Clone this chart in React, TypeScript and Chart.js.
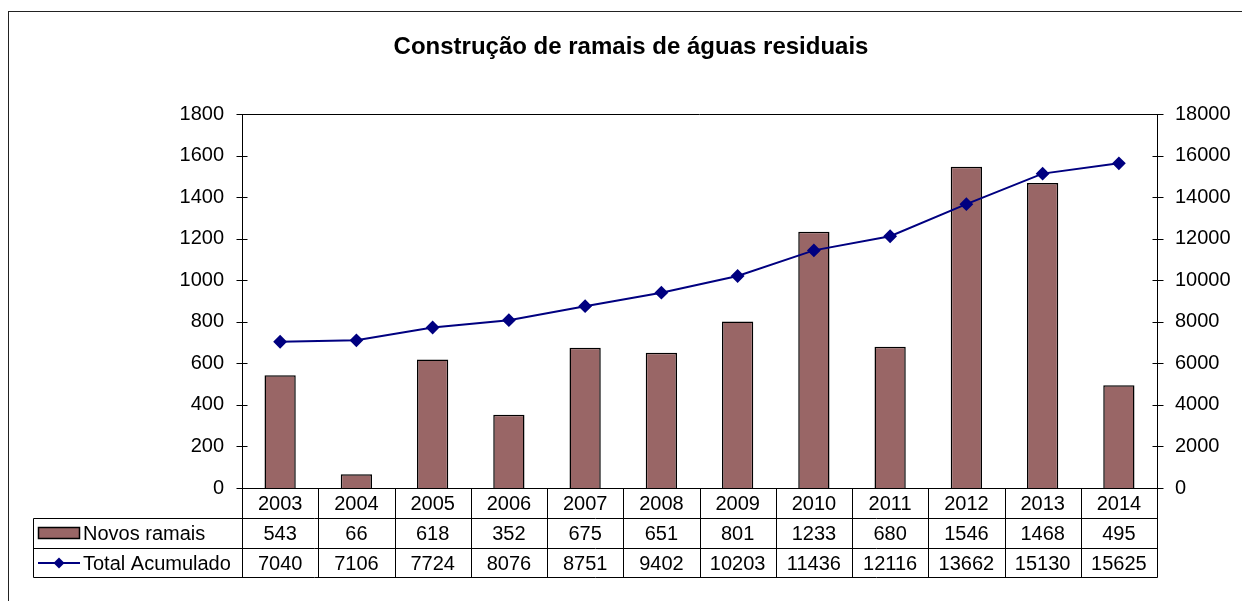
import { useEffect, useRef } from "react";
import { Chart, registerables } from "chart.js";

Chart.register(...registerables);

const years = ["2003", "2004", "2005", "2006", "2007", "2008", "2009", "2010", "2011", "2012", "2013", "2014"];
const novosRamais = [543, 66, 618, 352, 675, 651, 801, 1233, 680, 1546, 1468, 495];
const totalAcumulado = [7040, 7106, 7724, 8076, 8751, 9402, 10203, 11436, 12116, 13662, 15130, 15625];
const leftAxis = { min: 0, max: 1800, step: 200 };
const rightAxis = { min: 0, max: 18000, step: 2000 };
const titleText = "Construção de ramais de águas residuais";
const seriesNames = ["Novos ramais", "Total Acumulado"];

const FONT = "'Liberation Sans', Arial, sans-serif";
const BAR_COLOR = "#996666";
const LINE_COLOR = "#000080";

const tablePlugin = {
  id: "dataTable",
  afterDraw(chart: any) {
    const ctx = chart.ctx as CanvasRenderingContext2D;
    const area = chart.chartArea;
    const x = chart.scales.x;
    const y = chart.scales.y;
    const y1 = chart.scales.y1;
    ctx.save();
    // outer frame
    ctx.strokeStyle = "#222";
    ctx.lineWidth = 1;
    ctx.strokeRect(8.5, 11.5, 1400, 800);

    ctx.strokeStyle = "#000";
    // plot top border
    ctx.beginPath();
    ctx.moveTo(area.left, Math.round(area.top) + 0.5);
    ctx.lineTo(area.right, Math.round(area.top) + 0.5);
    ctx.stroke();

    // tick marks
    const lx = Math.round(area.left) + 0.5;
    const rx = Math.round(area.right) + 0.5;
    for (let v = leftAxis.min; v <= leftAxis.max; v += leftAxis.step) {
      const py = Math.round(y.getPixelForValue(v)) + 0.5;
      ctx.beginPath();
      ctx.moveTo(lx - 6, py);
      ctx.lineTo(lx + 5, py);
      ctx.stroke();
    }
    for (let v = rightAxis.min; v <= rightAxis.max; v += rightAxis.step) {
      const py = Math.round(y1.getPixelForValue(v)) + 0.5;
      ctx.beginPath();
      ctx.moveTo(rx - 5, py);
      ctx.lineTo(rx + 6, py);
      ctx.stroke();
    }

    // table grid
    const tLeft = 33.5;
    const r0 = Math.round(area.bottom) + 0.5;
    const r1 = 518.5;
    const r2 = 548.5;
    const r3 = 577.5;
    ctx.beginPath();
    for (let i = 0; i <= years.length; i++) {
      const bx = Math.round(x.getPixelForValue(i - 0.5)) + 0.5;
      ctx.moveTo(bx, r0);
      ctx.lineTo(bx, r3);
    }
    ctx.moveTo(tLeft, r1);
    ctx.lineTo(tLeft, r3);
    [r1, r2, r3].forEach((ry) => {
      ctx.moveTo(tLeft, ry);
      ctx.lineTo(rx, ry);
    });
    ctx.stroke();

    // legend keys
    ctx.fillStyle = BAR_COLOR;
    ctx.fillRect(38.5, 527.5, 41, 11);
    ctx.lineWidth = 1.5;
    ctx.strokeRect(38.5, 527.5, 41, 11);
    const ly = (r2 + r3) / 2;
    ctx.strokeStyle = LINE_COLOR;
    ctx.lineWidth = 2;
    ctx.beginPath();
    ctx.moveTo(38, ly);
    ctx.lineTo(80, ly);
    ctx.stroke();
    ctx.fillStyle = LINE_COLOR;
    ctx.beginPath();
    ctx.moveTo(59, ly - 5.5);
    ctx.lineTo(64.5, ly);
    ctx.lineTo(59, ly + 5.5);
    ctx.lineTo(53.5, ly);
    ctx.closePath();
    ctx.fill();

    // text
    ctx.fillStyle = "#000";
    ctx.font = `20px ${FONT}`;
    ctx.textBaseline = "middle";
    ctx.textAlign = "left";
    ctx.fillText(seriesNames[0], 83, (r1 + r2) / 2 + 1);
    ctx.fillText(seriesNames[1], 83, ly + 1);
    ctx.textAlign = "center";
    for (let i = 0; i < years.length; i++) {
      const cx = x.getPixelForValue(i);
      ctx.fillText(String(novosRamais[i]), cx, (r1 + r2) / 2 + 1);
      ctx.fillText(String(totalAcumulado[i]), cx, ly + 1);
    }
    ctx.restore();
  },
};

export default function App() {
  const ref = useRef<HTMLCanvasElement>(null);
  useEffect(() => {
    if (!ref.current) return;
    const chart = new Chart(ref.current, {
      type: "bar",
      data: {
        labels: years,
        datasets: [
          {
            type: "line",
            label: seriesNames[1],
            data: totalAcumulado,
            yAxisID: "y1",
            borderColor: LINE_COLOR,
            backgroundColor: LINE_COLOR,
            borderWidth: 2,
            pointStyle: "rectRot",
            pointRadius: 5.5,
            pointBackgroundColor: LINE_COLOR,
            pointBorderColor: LINE_COLOR,
            tension: 0,
            order: 0,
          } as any,
          {
            type: "bar",
            label: seriesNames[0],
            data: novosRamais,
            yAxisID: "y",
            backgroundColor: BAR_COLOR,
            borderColor: "#000",
            borderWidth: 1.5,
            categoryPercentage: 1,
            barPercentage: 0.41,
            order: 1,
          } as any,
        ],
      },
      options: {
        responsive: false,
        animation: false,
        layout: { padding: { left: 20, right: 0, top: 0, bottom: 0 } },
        plugins: {
          legend: { display: false },
          tooltip: { enabled: false },
          title: {
            display: true,
            text: titleText,
            color: "#000",
            font: { family: FONT, size: 24, weight: "bold" },
            padding: { top: 32.6, bottom: 52.6 },
          },
        },
        scales: {
          x: {
            grid: { display: false, drawTicks: false },
            border: { display: true, color: "#000", width: 1 },
            ticks: { color: "#000", font: { family: FONT, size: 20 }, padding: 4, maxRotation: 0 },
            afterFit: (s: any) => {
              s.height = 113;
            },
          },
          y: {
            position: "left",
            min: leftAxis.min,
            max: leftAxis.max,
            grid: { display: false, drawTicks: false },
            border: { display: true, color: "#000", width: 1 },
            ticks: {
              stepSize: leftAxis.step,
              color: "#000",
              font: { family: FONT, size: 20 },
              padding: 18,
              callback: (v: any) => String(v),
            },
            afterFit: (s: any) => {
              s.width = 222;
            },
          },
          y1: {
            position: "right",
            min: rightAxis.min,
            max: rightAxis.max,
            grid: { display: false, drawTicks: false },
            border: { display: true, color: "#000", width: 1 },
            ticks: {
              stepSize: rightAxis.step,
              color: "#000",
              font: { family: FONT, size: 20 },
              padding: 18,
              callback: (v: any) => String(v),
            },
            afterFit: (s: any) => {
              s.width = 85;
            },
          },
        },
      },
      plugins: [tablePlugin],
    });
    return () => chart.destroy();
  }, []);
  return (
    <canvas
      ref={ref}
      width={1242}
      height={601}
      style={{ position: "absolute", left: 0, top: 0, width: 1242, height: 601, background: "#fff" }}
    />
  );
}
